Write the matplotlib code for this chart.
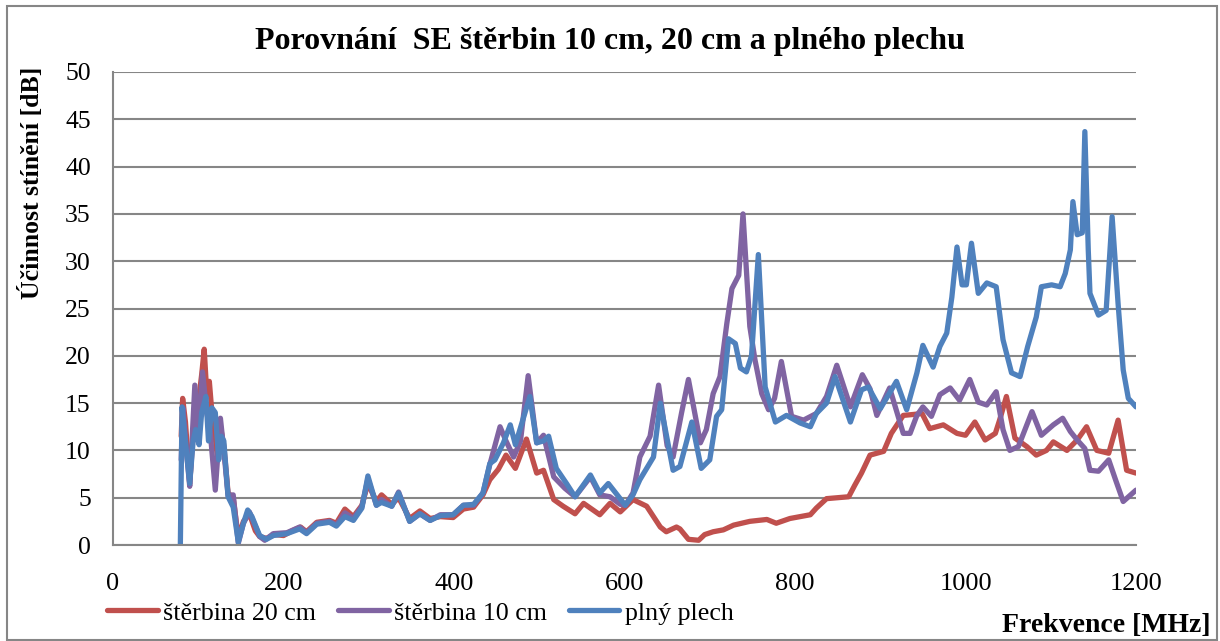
import matplotlib
matplotlib.use("Agg")
import matplotlib.pyplot as plt
from matplotlib.patches import Rectangle

# ---------------- data ----------------
title = "Porovnání  SE štěrbin 10 cm, 20 cm a plného plechu"
ylabel = "Účinnost stínění [dB]"
xlabel = "Frekvence [MHz]"
series_names = ["štěrbina 20 cm", "štěrbina 10 cm", "plný plech"]

red_f = [80, 81.7, 85, 90, 95, 100, 104, 107, 110, 113, 116, 119, 123, 126, 130, 135,
         141, 147, 153, 160, 167, 172, 180, 190, 200, 210, 220, 227, 239, 254, 262, 272,
         282, 292, 299, 309, 315, 327, 335, 348, 360, 372, 384, 399, 411, 423, 434, 442,
         452, 461, 472, 485, 497, 505, 517, 528, 542, 552, 571, 583, 595, 610, 626, 642,
         649, 661, 665, 675, 687, 694, 704, 716, 728, 747, 767, 778, 794, 818, 825, 837,
         863, 870, 878, 888, 904, 913, 927, 939, 949, 958, 974, 990, 1000, 1011, 1023,
         1035, 1040, 1048, 1058, 1072, 1083, 1095, 1103, 1119, 1131, 1142, 1154, 1168,
         1179, 1189, 1200]
red_v = [11.5, 15.5, 13, 6.5, 13, 15, 18, 20.7, 16, 17.3, 14, 12, 9, 12.5, 10.5, 5.5,
         5.0, 0.8, 2.5, 3.3, 1.5, 0.9, 0.7, 1.1, 1.0, 1.5, 1.9, 1.4, 2.4, 2.6, 2.3, 3.8,
         3.0, 4.2, 6.5, 4.6, 5.3, 4.3, 5.0, 2.8, 3.6, 2.8, 3.0, 2.9, 3.8, 4.0, 5.3, 6.9,
         8.0, 9.5, 8.1, 11.2, 7.6, 7.9, 4.8, 4.1, 3.3, 4.4, 3.2, 4.4, 3.5, 4.8, 4.1, 1.9,
         1.4, 1.9, 1.7, 0.6, 0.5, 1.1, 1.4, 1.6, 2.1, 2.5, 2.7, 2.3, 2.8, 3.2, 3.9, 4.9,
         5.1, 6.3, 7.6, 9.5, 9.9, 11.8, 13.7, 13.8, 13.9, 12.3, 12.7, 11.8, 11.6, 13.0, 11.1,
         11.8, 13.2, 15.7, 11.3, 10.4, 9.5, 10.0, 10.9, 10.0, 11.1, 12.5, 10.0, 9.7,
         13.2, 7.9, 7.6]

purple_f = [80, 82, 86, 90, 96, 100, 105, 110, 114, 120, 126, 130, 135, 141, 147, 153,
            160, 172, 178, 188, 204, 219, 227, 239, 254, 262, 272, 282, 292, 299, 309,
            315, 327, 335, 348, 360, 372, 384, 399, 411, 423, 434, 442, 454, 461, 470,
            478, 487, 497, 505, 517, 530, 542, 560, 571, 583, 595, 601, 610, 618, 630,
            640, 650, 657, 667, 675, 689, 696, 704, 712, 720, 726, 734, 739, 747, 753,
            761, 769, 776, 784, 796, 810, 825, 837, 849, 865, 879, 888, 896, 911, 927,
            935, 943, 950, 960, 970, 982, 993, 1005, 1015, 1025, 1036, 1044, 1052, 1062,
            1078, 1089, 1103, 1114, 1123, 1131, 1140, 1146, 1156, 1168, 1176, 1185, 1200]
purple_v = [9, 14.5, 10, 6.2, 16.9, 12, 18.3, 14, 12, 5.8, 13.4, 10, 5.2, 5.3, 0.2, 2.3,
            3.5, 0.9, 0.5, 1.2, 1.3, 1.9, 1.3, 2.3, 2.5, 2.1, 3.4, 2.8, 4.1, 7.0, 4.2,
            4.8, 4.1, 5.6, 2.5, 3.3, 2.6, 3.2, 3.2, 4.2, 4.2, 5.5, 8.5, 12.5, 11.0, 9.3,
            11.0, 17.9, 10.8, 11.6, 7.2, 6.0, 5.1, 7.2, 5.3, 5.1, 4.3, 4.2, 5.5, 9.3, 11.5,
            16.9, 10.5, 9.3, 14.0, 17.5, 10.8, 12.2, 16.0, 17.8, 23.4, 27.1, 28.5, 35.0, 23.1, 19.6,
            16.0, 14.3, 15.5, 19.4, 13.6, 13.2, 13.9, 15.7, 19.0, 14.6, 18.0, 16.5, 13.7, 16.6, 11.8,
            11.8, 13.7, 14.6, 13.6, 15.9, 16.6, 15.3, 17.5, 15.1, 14.8, 16.2, 12.2, 10.0, 10.4,
            14.1, 11.6, 12.7, 13.4, 12.0, 11.1, 10.2, 7.9, 7.8, 9.0, 6.9, 4.6, 5.8]

blue_f = [79, 81, 86, 90, 94, 97, 101, 104, 109, 112, 116, 120, 124, 127, 130, 135,
          141, 147, 153, 158, 163, 172, 180, 188, 204, 219, 227, 239, 254, 262, 272,
          282, 292, 299, 309, 315, 327, 335, 348, 360, 372, 384, 399, 411, 423, 434,
          442, 448, 458, 466, 472, 489, 497, 505, 511, 520, 532, 542, 560, 571, 581,
          601, 610, 618, 634, 642, 657, 665, 679, 690, 700, 708, 714, 722, 730, 736,
          743, 749, 757, 765, 777, 790, 806, 818, 825, 837, 847, 865, 878, 886, 900,
          919, 931, 943, 950, 962, 970, 978, 984, 990, 996, 1001, 1007, 1015, 1025,
          1036, 1044, 1054, 1064, 1073, 1083, 1089, 1101, 1111, 1117, 1123, 1126, 1131,
          1137, 1140, 1144, 1146, 1156, 1165, 1172, 1179, 1185, 1191, 1200]
blue_v = [0, 14.6, 10, 6.5, 11, 12.2, 10.6, 14, 15.7, 11, 14.5, 14, 9, 11.5, 11, 5.1,
          4.0, 0.3, 2.3, 3.7, 3.0, 1.0, 0.6, 1.0, 1.2, 1.7, 1.2, 2.2, 2.4, 2.0, 3.0,
          2.6, 3.9, 7.3, 4.2, 4.5, 4.1, 5.5, 2.5, 3.3, 2.6, 3.1, 3.2, 4.2, 4.3, 5.5,
          8.6, 9.0, 10.8, 12.7, 10.6, 15.7, 10.8, 11.0, 11.5, 8.1, 6.5, 5.1, 7.4, 5.5, 6.5,
          4.2, 5.3, 6.9, 9.3, 15.0, 7.9, 8.3, 13.0, 8.1, 9.0, 13.6, 14.3, 21.8, 21.3, 18.7,
          18.3, 20.0, 30.7, 16.7, 13.0, 13.7, 12.9, 12.5, 13.9, 15.0, 17.8, 13.0, 16.4, 16.7, 14.4,
          17.3, 14.3, 18.2, 21.1, 18.8, 21.0, 22.4, 26.2, 31.5, 27.5, 27.5, 31.9, 26.6, 27.7,
          27.3, 21.7, 18.2, 17.8, 21.0, 24.1, 27.3, 27.5, 27.3, 28.7, 31.2, 36.3, 32.8,
          33.0, 43.7, 31.2, 26.6, 24.3, 24.8, 34.7, 25.5, 18.5, 15.5, 14.6]

colors = ["#C0504D", "#8064A2", "#4F81BD"]
x_ticks = [0, 200, 400, 600, 800, 1000, 1200]
y_ticks = [0, 5, 10, 15, 20, 25, 30, 35, 40, 45, 50]

# ---------------- figure ----------------
W, H = 1220, 641
fig = plt.figure(figsize=(W / 100, H / 100), dpi=100)
serif = "Liberation Serif"

# outer border
fig.patches.append(Rectangle((7 / W, 0.002), (1217 - 7) / W, 1 - 6 / H - 0.002,
                             transform=fig.transFigure, fill=False,
                             edgecolor="#868686", linewidth=1.5))

ax = fig.add_axes([113 / W, 1 - 545 / H, (1136 - 113) / W, (545 - 72) / H])

for f, v, c, n in zip([red_f, purple_f, blue_f], [red_v, purple_v, blue_v], colors, series_names):
    ax.plot(f, v, color=c, linewidth=3.8, label=n, solid_joinstyle="round",
            solid_capstyle="round")

ax.set_xlim(0, 1200)
ax.set_ylim(0, 50)
ax.set_xticks(x_ticks)
ax.set_yticks(y_ticks)
ax.xaxis.set_tick_params(length=0, labelsize=19, pad=20)
ax.yaxis.set_tick_params(length=0, labelsize=18.5, pad=16)
for lab in ax.get_xticklabels() + ax.get_yticklabels():
    lab.set_fontfamily(serif)
ax.grid(axis="y", color="#868686", linewidth=1.5)
ax.set_axisbelow(True)
for s in ["top", "right"]:
    ax.spines[s].set_visible(False)
for s in ["left", "bottom"]:
    ax.spines[s].set_color("#868686")
    ax.spines[s].set_linewidth(1.5)

fig.text(610 / W, 1 - 42 / H, title, ha="center", va="center",
         fontsize=23, fontweight="bold", family=serif)
fig.text(32 / W, 1 - 183 / H, ylabel, ha="center", va="center", rotation=90,
         fontsize=18.5, fontweight="bold", family=serif)
fig.text(1211 / W, 1 - 626 / H, xlabel, ha="right", va="center",
         fontsize=20, fontweight="bold", family=serif)

leg = fig.legend(loc="center left", bbox_to_anchor=(107 / W, 1 - 613 / H), ncol=3,
                 frameon=False, prop={"family": serif, "size": 18.7},
                 handlelength=1.95, handletextpad=0.2, columnspacing=0.85,
                 borderaxespad=0, borderpad=0)
for line in leg.get_lines():
    line.set_linewidth(3.8)

fig.savefig("out.png", dpi=100)
